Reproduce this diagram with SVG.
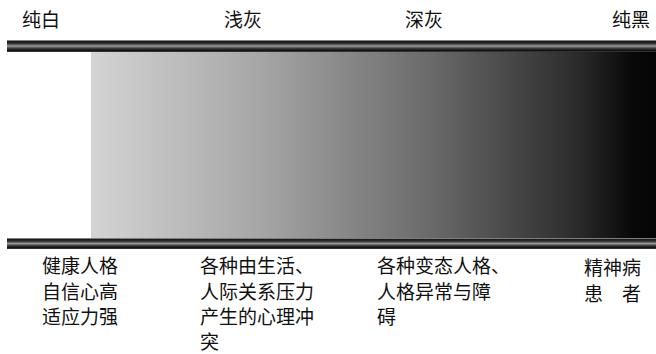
<svg xmlns="http://www.w3.org/2000/svg" width="656" height="354" viewBox="0 0 656 354">
<defs>
<linearGradient id="spec" x1="91" y1="0" x2="656" y2="0" gradientUnits="userSpaceOnUse">
<stop offset="0" stop-color="#d4d4d4"/>
<stop offset="0.3" stop-color="#a6a6a6"/>
<stop offset="0.6" stop-color="#6a6a6a"/>
<stop offset="0.85" stop-color="#2e2e2e"/>
<stop offset="0.96" stop-color="#080808"/>
<stop offset="1" stop-color="#050505"/>
</linearGradient>
<linearGradient id="bar" x1="0" y1="0" x2="0" y2="1">
<stop offset="0" stop-color="#bbbbbb"/>
<stop offset="0.12" stop-color="#1a1a1a"/>
<stop offset="0.3" stop-color="#333333"/>
<stop offset="0.5" stop-color="#9a9a9a"/>
<stop offset="0.7" stop-color="#3a3a3a"/>
<stop offset="0.88" stop-color="#111111"/>
<stop offset="1" stop-color="#444444"/>
</linearGradient>
</defs>
<style>
text{font-family:"Noto Sans CJK SC","Noto Sans CJK JP",sans-serif;font-size:19px;fill:#111;}
</style>
<rect width="656" height="354" fill="#ffffff"/>
<g id="spectrum">
<rect x="91" y="52" width="565" height="186" fill="url(#spec)"/>
</g>
<g id="bars">
<rect x="7" y="40" width="649" height="12" fill="url(#bar)"/>
<rect x="7" y="238" width="649" height="11" fill="url(#bar)"/>
</g>
<g id="top-labels">
<text x="22" y="27">纯白</text>
<text x="224" y="27">浅灰</text>
<text x="405" y="27">深灰</text>
<text x="612" y="27">纯黑</text>
</g>
<g id="col1">
<text x="42" y="273">健康人格</text>
<text x="42" y="299">自信心高</text>
<text x="42" y="324">适应力强</text>
</g>
<g id="col2">
<text x="200" y="273">各种由生活、</text>
<text x="200" y="299">人际关系压力</text>
<text x="200" y="324">产生的心理冲</text>
<text x="200" y="349">突</text>
</g>
<g id="col3">
<text x="377" y="273">各种变态人格、</text>
<text x="377" y="299">人格异常与障</text>
<text x="377" y="324">碍</text>
</g>
<g id="col4">
<text x="584" y="275">精神病</text>
<text x="584" y="301">患</text>
<text x="622" y="301">者</text>
</g>
</svg>
